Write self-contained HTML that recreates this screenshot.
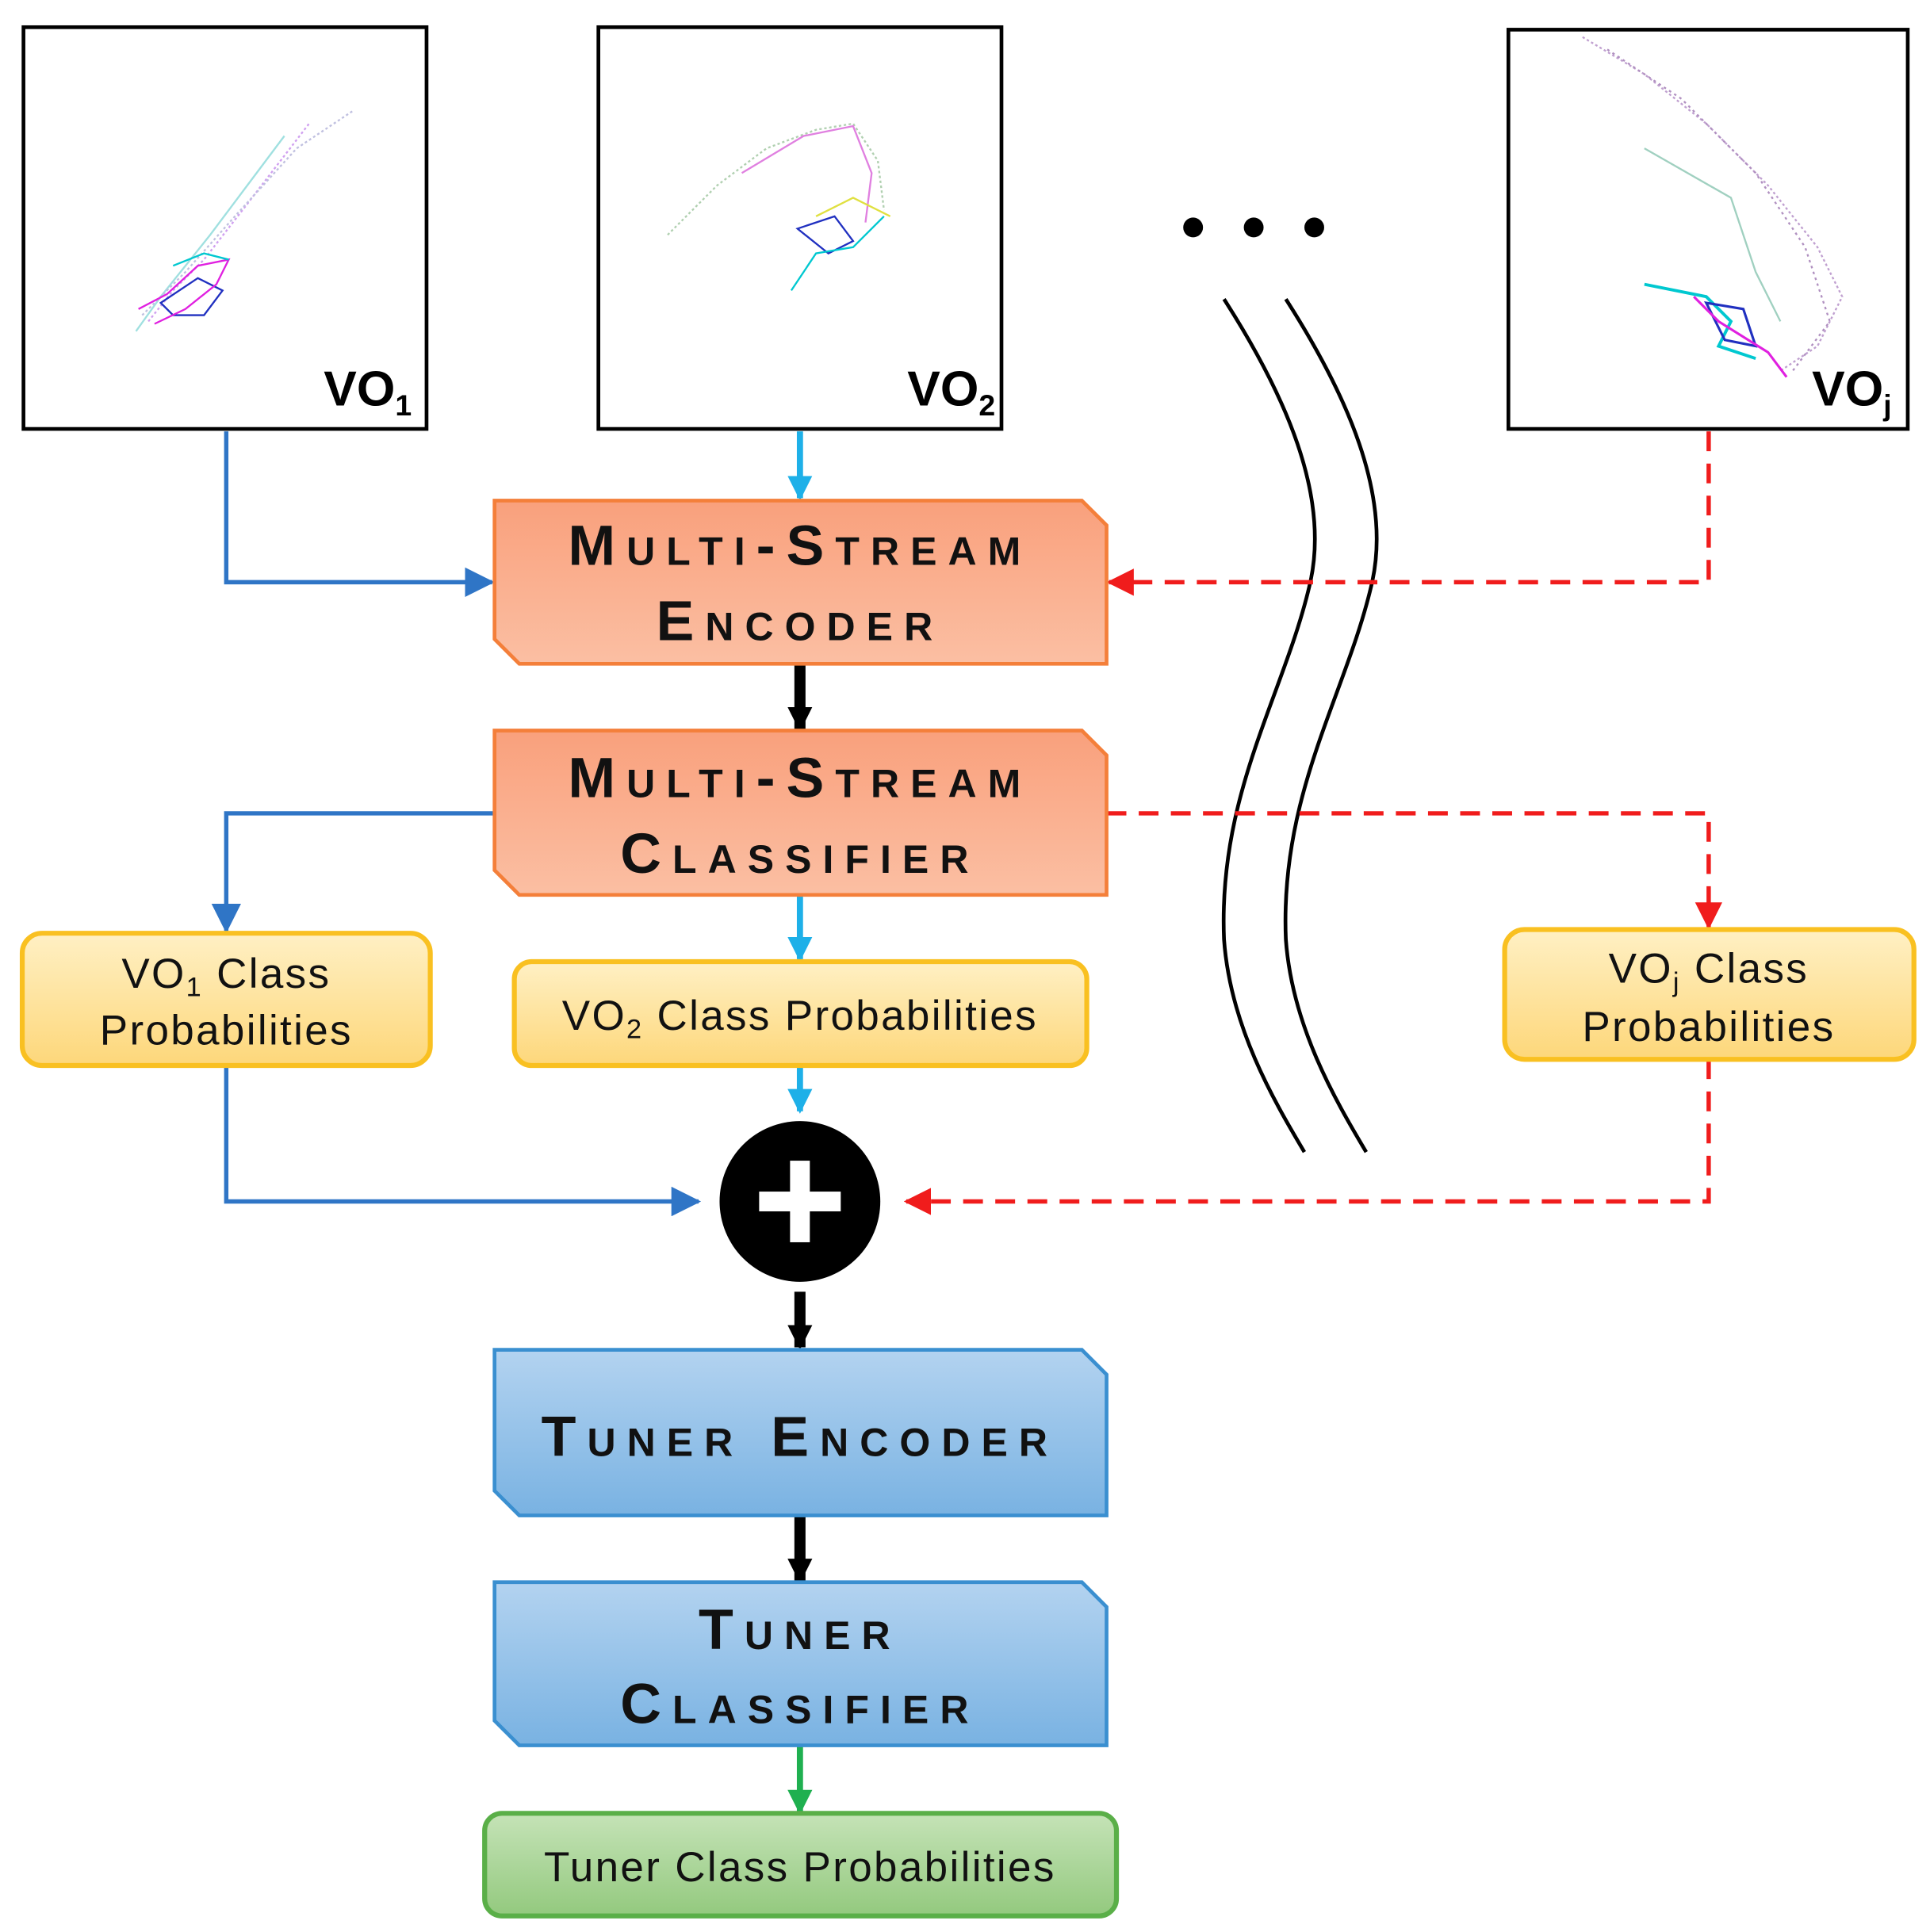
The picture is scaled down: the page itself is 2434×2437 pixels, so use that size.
<!DOCTYPE html>
<html><head><meta charset="utf-8"><style>
html,body{margin:0;padding:0;background:#fff;}
svg{display:block;}
.cap{font-family:"Liberation Sans",sans-serif;font-weight:bold;font-variant:small-caps;font-size:46px;letter-spacing:9px;fill:#111;text-anchor:middle;}
.lbl{font-family:"Liberation Sans",sans-serif;font-size:34px;letter-spacing:1.5px;fill:#111;text-anchor:middle;}
.vo{font-family:"Liberation Sans",sans-serif;font-weight:bold;font-size:40px;fill:#000;text-anchor:end;}
</style></head><body>
<svg width="2434" height="2437" viewBox="0 0 1561 1563" preserveAspectRatio="none" xmlns="http://www.w3.org/2000/svg">
<defs>
<linearGradient id="og" x1="0" y1="0" x2="0" y2="1"><stop offset="0" stop-color="#f9a07c"/><stop offset="1" stop-color="#fbbfa3"/></linearGradient>
<linearGradient id="yg" x1="0" y1="0" x2="0" y2="1"><stop offset="0" stop-color="#fff0c4"/><stop offset="1" stop-color="#fdd77a"/></linearGradient>
<linearGradient id="bg" x1="0" y1="0" x2="0" y2="1"><stop offset="0" stop-color="#b3d3f0"/><stop offset="1" stop-color="#79b2e2"/></linearGradient>
<linearGradient id="gg" x1="0" y1="0" x2="0" y2="1"><stop offset="0" stop-color="#c5e3b7"/><stop offset="1" stop-color="#93c97e"/></linearGradient>
<marker id="ac" markerWidth="20" markerHeight="20" refX="18" refY="10" orient="auto" markerUnits="userSpaceOnUse"><path d="M0,0 L20,10 L0,20z" fill="#1eb0e8"/></marker>
<marker id="ar" markerWidth="22" markerHeight="22" refX="20" refY="11" orient="auto" markerUnits="userSpaceOnUse"><path d="M0,0 L22,11 L0,22z" fill="#f01c1c"/></marker>
<marker id="ak" markerWidth="20" markerHeight="20" refX="18" refY="10" orient="auto" markerUnits="userSpaceOnUse"><path d="M0,0 L20,10 L0,20z" fill="#000"/></marker>
<marker id="ag" markerWidth="20" markerHeight="20" refX="18" refY="10" orient="auto" markerUnits="userSpaceOnUse"><path d="M0,0 L20,10 L0,20z" fill="#1fb050"/></marker>
<marker id="abb" markerWidth="24" markerHeight="24" refX="22" refY="12" orient="auto" markerUnits="userSpaceOnUse"><path d="M0,0 L24,12 L0,24z" fill="#2f75c6"/></marker>
</defs>

<rect x="19" y="22" width="326" height="325" fill="#fff" stroke="#000" stroke-width="3"/>
<rect x="484" y="22" width="326" height="325" fill="#fff" stroke="#000" stroke-width="3"/>
<rect x="1220" y="24" width="323" height="323" fill="#fff" stroke="#000" stroke-width="3"/>
<g fill="none" stroke-width="1.5">
<polyline points="110,268 130,240 150,215 170,190 200,150 230,110" stroke="#a0e0e0"/>
<polyline points="120,260 140,235 165,210 200,165 250,100" stroke="#d0a0f0" stroke-dasharray="2,2"/>
<polyline points="115,255 150,220 190,175 240,120 285,90" stroke="#c0c0e0" stroke-dasharray="2,2"/>
<polygon points="130,245 160,225 180,235 165,255 140,255" stroke="#2030c0"/>
<polyline points="112,250 135,238 160,215 185,210 175,230 150,250 125,262" stroke="#e020e0"/>
<polyline points="140,215 165,205 185,210" stroke="#00c8d0"/>
<polyline points="540,190 580,150 620,120 660,105 690,100 710,130 715,170" stroke="#b0d0b0" stroke-dasharray="2,2"/>
<polyline points="600,140 650,110 690,102 705,140 700,180" stroke="#e080e0"/>
<polygon points="645,185 675,175 690,195 670,205" stroke="#2030c0"/>
<polyline points="640,235 660,205 690,200 715,175" stroke="#00c8d0"/>
<polyline points="660,175 690,160 720,175" stroke="#e0e040"/>
<polyline points="1280,30 1330,60 1380,100 1430,150 1470,200 1490,240 1470,280 1440,300" stroke="#c0a0d0" stroke-dasharray="2,2"/>
<polyline points="1300,40 1360,80 1420,140 1460,200 1480,260 1450,300" stroke="#b090c0" stroke-dasharray="2,3"/>
<polyline points="1330,120 1400,160 1420,220 1440,260" stroke="#a0d0c0"/>
<polyline points="1330,230 1380,240 1400,260 1390,280 1420,290" stroke="#00c8d0" stroke-width="2.5"/>
<polygon points="1380,245 1410,250 1420,280 1395,275" stroke="#2030c0" stroke-width="2"/>
<polyline points="1370,240 1390,260 1430,285 1445,305" stroke="#e020e0" stroke-width="2"/>
</g>
<text class="vo" x="333" y="328">VO<tspan font-size="24" dy="8">1</tspan></text>
<text class="vo" x="805" y="328">VO<tspan font-size="24" dy="8">2</tspan></text>
<text class="vo" x="1530" y="328">VO<tspan font-size="24" dy="8">j</tspan></text>

<circle cx="965" cy="184" r="8" fill="#000"/><circle cx="1014" cy="184" r="8" fill="#000"/><circle cx="1063" cy="184" r="8" fill="#000"/>
<path d="M990,242 C1040,320 1075,400 1060,470 C1040,560 985,640 990,760 C995,830 1030,890 1055,932" fill="none" stroke="#000" stroke-width="3"/>
<path d="M1040,242 C1090,320 1125,400 1110,470 C1090,560 1035,640 1040,760 C1045,830 1080,890 1105,932" fill="none" stroke="#000" stroke-width="3"/>

<polyline points="183,349 183,471 398,471" fill="none" stroke="#2f75c6" stroke-width="3.5" marker-end="url(#abb)"/>
<line x1="647" y1="349" x2="647" y2="403" stroke="#1eb0e8" stroke-width="5" marker-end="url(#ac)"/>
<polyline points="1382,349 1382,471 897,471" fill="none" stroke="#f01c1c" stroke-width="3.5" stroke-dasharray="16,10" marker-end="url(#ar)"/>
<line x1="647" y1="537" x2="647" y2="590" stroke="#000" stroke-width="9" marker-end="url(#ak)"/>
<polyline points="400,658 183,658 183,753" fill="none" stroke="#2f75c6" stroke-width="3.5" marker-end="url(#abb)"/>
<line x1="647" y1="724" x2="647" y2="776" stroke="#1eb0e8" stroke-width="5" marker-end="url(#ac)"/>
<polyline points="895,658 1382,658 1382,750" fill="none" stroke="#f01c1c" stroke-width="3.5" stroke-dasharray="16,10" marker-end="url(#ar)"/>
<line x1="647" y1="862" x2="647" y2="899" stroke="#1eb0e8" stroke-width="5" marker-end="url(#ac)"/>
<polyline points="183,862 183,972 565,972" fill="none" stroke="#2f75c6" stroke-width="3.5" marker-end="url(#abb)"/>
<polyline points="1382,857 1382,972 733,972" fill="none" stroke="#f01c1c" stroke-width="3.5" stroke-dasharray="16,10" marker-end="url(#ar)"/>
<line x1="647" y1="1045" x2="647" y2="1090" stroke="#000" stroke-width="9" marker-end="url(#ak)"/>
<line x1="647" y1="1226" x2="647" y2="1279" stroke="#000" stroke-width="9" marker-end="url(#ak)"/>
<line x1="647" y1="1412" x2="647" y2="1466" stroke="#1fb050" stroke-width="5" marker-end="url(#ag)"/>

<path d="M400,405 L875,405 L895,425 L895,537 L420,537 L400,517 Z" fill="url(#og)" stroke="#f47f3a" stroke-width="3"/>
<text class="cap" x="647" y="457">Multi-Stream</text>
<text class="cap" x="647" y="518">Encoder</text>
<path d="M400,591 L875,591 L895,611 L895,724 L420,724 L400,704 Z" fill="url(#og)" stroke="#f47f3a" stroke-width="3"/>
<text class="cap" x="647" y="645">Multi-Stream</text>
<text class="cap" x="647" y="706">Classifier</text>

<rect x="18" y="755" width="330" height="107" rx="16" fill="url(#yg)" stroke="#f9c021" stroke-width="4"/>
<text class="lbl" x="183" y="799">VO<tspan font-size="22" dy="7">1</tspan><tspan dy="-7"> Class</tspan></text>
<text class="lbl" x="183" y="845">Probabilities</text>
<rect x="416" y="778" width="463" height="84" rx="14" fill="url(#yg)" stroke="#f9c021" stroke-width="4"/>
<text class="lbl" x="647" y="833">VO<tspan font-size="22" dy="7">2</tspan><tspan dy="-7"> Class Probabilities</tspan></text>
<rect x="1217" y="752" width="331" height="105" rx="16" fill="url(#yg)" stroke="#f9c021" stroke-width="4"/>
<text class="lbl" x="1382" y="795">VO<tspan font-size="22" dy="7">j</tspan><tspan dy="-7"> Class</tspan></text>
<text class="lbl" x="1382" y="842">Probabilities</text>

<circle cx="647" cy="972" r="65" fill="#000"/>
<rect x="614" y="964" width="66" height="16" fill="#fff"/>
<rect x="639" y="939" width="16" height="66" fill="#fff"/>

<path d="M400,1092 L875,1092 L895,1112 L895,1226 L420,1226 L400,1206 Z" fill="url(#bg)" stroke="#3a8fd0" stroke-width="3"/>
<text class="cap" x="647" y="1178">Tuner Encoder</text>
<path d="M400,1280 L875,1280 L895,1300 L895,1412 L420,1412 L400,1392 Z" fill="url(#bg)" stroke="#3a8fd0" stroke-width="3"/>
<text class="cap" x="647" y="1334">Tuner</text>
<text class="cap" x="647" y="1394">Classifier</text>

<rect x="392" y="1467" width="511" height="83" rx="14" fill="url(#gg)" stroke="#5aaf48" stroke-width="4"/>
<text class="lbl" x="647" y="1522">Tuner Class Probabilities</text>
</svg>
</body></html>
